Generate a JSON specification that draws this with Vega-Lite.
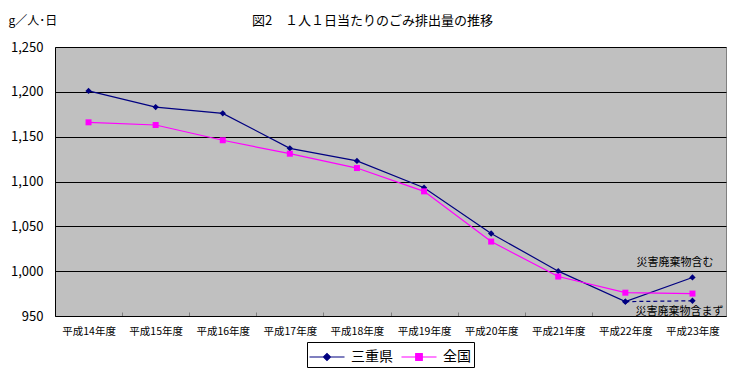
{
  "$schema": "https://vega.github.io/schema/vega-lite/v6.json",
  "width": 671,
  "height": 269,
  "autosize": {"type": "none"},
  "padding": {"left": 55, "top": 47, "right": 15, "bottom": 57},
  "background": "white",
  "title": {
    "text": "図2　１人１日当たりのごみ排出量の推移",
    "anchor": "middle",
    "frame": "group",
    "dx": -18,
    "offset": -14,
    "fontSize": 13,
    "fontWeight": "normal",
    "font": "Noto Sans CJK JP",
    "color": "black"
  },
  "config": {
    "font": "Noto Sans CJK JP",
    "view": {"fill": "#C0C0C0", "stroke": "#808080", "strokeWidth": 1},
    "legend": {"layout": {"bottom": {"anchor": "middle"}}, "strokeColor": "black", "strokeWidth": 1, "fillColor": "white"}
  },
  "datasets": {
    "main": [
      {"year": "平成14年度", "series": "三重県", "value": 1201},
      {"year": "平成15年度", "series": "三重県", "value": 1183},
      {"year": "平成16年度", "series": "三重県", "value": 1176},
      {"year": "平成17年度", "series": "三重県", "value": 1137},
      {"year": "平成18年度", "series": "三重県", "value": 1123},
      {"year": "平成19年度", "series": "三重県", "value": 1093},
      {"year": "平成20年度", "series": "三重県", "value": 1042},
      {"year": "平成21年度", "series": "三重県", "value": 1000},
      {"year": "平成22年度", "series": "三重県", "value": 966},
      {"year": "平成23年度", "series": "三重県", "value": 993},
      {"year": "平成14年度", "series": "全国", "value": 1166},
      {"year": "平成15年度", "series": "全国", "value": 1163},
      {"year": "平成16年度", "series": "全国", "value": 1146},
      {"year": "平成17年度", "series": "全国", "value": 1131},
      {"year": "平成18年度", "series": "全国", "value": 1115},
      {"year": "平成19年度", "series": "全国", "value": 1089},
      {"year": "平成20年度", "series": "全国", "value": 1033},
      {"year": "平成21年度", "series": "全国", "value": 994},
      {"year": "平成22年度", "series": "全国", "value": 976},
      {"year": "平成23年度", "series": "全国", "value": 975}
    ],
    "excl": [
      {"year": "平成22年度", "value": 966},
      {"year": "平成23年度", "value": 967}
    ],
    "notes": [
      {"year": "平成23年度", "value": 1009, "label": "災害廃棄物含む"},
      {"year": "平成23年度", "value": 955, "label": "災害廃棄物含まず"}
    ]
  },
  "encoding": {
    "x": {
      "field": "year",
      "type": "ordinal",
      "sort": null,
      "scale": {"type": "band", "paddingInner": 0, "paddingOuter": 0,
        "domain": ["平成14年度","平成15年度","平成16年度","平成17年度","平成18年度","平成19年度","平成20年度","平成21年度","平成22年度","平成23年度"]},
      "axis": {
        "title": null,
        "labelAngle": 0,
        "labelFontSize": 10.5,
        "labelColor": "black",
        "labelPadding": 14,
        "tickBand": "extent",
        "tickSize": -4,
        "tickColor": "#808080",
        "domainColor": "black",
        "grid": false
      }
    },
    "y": {
      "field": "value",
      "type": "quantitative",
      "scale": {"domain": [950, 1250], "nice": false, "zero": false},
      "axis": {
        "values": [950, 1000, 1050, 1100, 1150, 1200, 1250],
        "format": ",.0f",
        "labelFontSize": 13,
        "labelColor": "black",
        "labelPadding": 12,
        "ticks": false,
        "domainColor": "black",
        "grid": true,
        "gridColor": "black",
        "gridWidth": 1,
        "title": "g／人･日",
        "titleAngle": 0,
        "titleAlign": "left",
        "titleBaseline": "middle",
        "titleX": -47,
        "titleY": -27,
        "titleFontSize": 12,
        "titleFontWeight": "normal",
        "titleColor": "black"
      }
    }
  },
  "layer": [
    {
      "data": {"name": "main"},
      "mark": {"type": "line", "strokeWidth": 1.2},
      "encoding": {
        "color": {
          "field": "series",
          "type": "nominal",
          "sort": ["三重県", "全国"],
          "scale": {"domain": ["三重県", "全国"], "range": ["#000080", "#FF00FF"]},
          "legend": {
            "title": null,
            "orient": "bottom",
            "offset": 5,
            "direction": "horizontal",
            "padding": 3,
            "cornerRadius": 0,
            "labelFontSize": 14,
            "labelColor": "black",
            "columnPadding": 6,
            "symbolSize": 480,
            "symbolOffset": 5,
            "labelOffset": 12,
            "symbolStrokeWidth": 1.2,
            "encode": {
              "legend": {
                "update": {
                  "stroke": {"value": "black"},
                  "strokeWidth": {"value": 1},
                  "fill": {"value": "white"},
                  "width": {"value": 172},
                  "height": {"value": 22}
                }
              },
              "symbols": {
                "update": {
                  "shape": {"signal": "datum.value === '三重県' ? 'M-1.6,0H1.6M-0.32,0L0,-0.32L0.32,0L0,0.32Z' : 'M-1.6,0H1.6M-0.3,-0.3H0.3V0.3H-0.3Z'"},
                  "fill": {"signal": "datum.value === '三重県' ? '#000080' : '#FF00FF'"},
                  "stroke": {"signal": "datum.value === '三重県' ? '#000080' : '#FF00FF'"}
                }
              }
            }
          }
        }
      }
    },
    {
      "data": {"name": "excl"},
      "mark": {"type": "line", "strokeWidth": 1.2, "strokeDash": [4, 3], "color": "#000080"},
      "encoding": {}
    },
    {
      "data": {"name": "excl"},
      "mark": {"type": "point", "shape": "diamond", "filled": true, "size": 40, "color": "#000080", "opacity": 1},
      "encoding": {}
    },
    {
      "data": {"name": "main"},
      "transform": [{"filter": "datum.series === '三重県'"}],
      "mark": {"type": "point", "shape": "diamond", "filled": true, "size": 40, "color": "#000080", "opacity": 1},
      "encoding": {}
    },
    {
      "data": {"name": "main"},
      "transform": [{"filter": "datum.series === '全国'"}],
      "mark": {"type": "point", "shape": "square", "filled": true, "size": 36, "color": "#FF00FF", "opacity": 1},
      "encoding": {}
    },
    {
      "data": {"name": "notes"},
      "transform": [{"filter": "datum.label === '災害廃棄物含む'"}],
      "mark": {"type": "text", "align": "right", "baseline": "middle", "fontSize": 11, "color": "black", "dx": 21},
      "encoding": {"text": {"field": "label"}}
    },
    {
      "data": {"name": "notes"},
      "transform": [{"filter": "datum.label === '災害廃棄物含まず'"}],
      "mark": {"type": "text", "align": "right", "baseline": "middle", "fontSize": 11, "color": "black", "dx": 31},
      "encoding": {"text": {"field": "label"}}
    }
  ]
}
